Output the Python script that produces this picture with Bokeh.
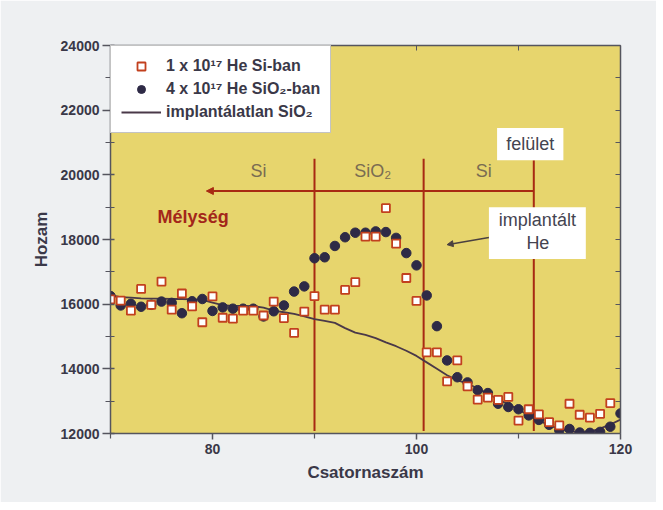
from bokeh.plotting import figure
from bokeh.models import (Range1d, Legend, LegendItem, LinearAxis, Arrow, NormalHead,
                          Label, FixedTicker, ColumnDataSource)
from bokeh.embed import file_html
from bokeh.resources import INLINE

# ---------------- data ----------------
channels_sq = list(range(70, 120))
si_ban = [16150, 16110, 15800, 16470, 15980, 16700, 15830, 16330, 15930, 15440,
          16240, 15580, 15550, 15800, 15800, 15650, 16080, 15570, 15110, 15770,
          16250, 15830, 15830, 16440, 16680, 18090, 18090, 18970, 17870, 16810,
          16100, 14510, 14510, 13610, 14260, 13460, 13050, 13110, 13040, 13130,
          12400, 12750, 12590, 12350, 12250, 12920, 12580, 12490, 12610, 12940]

channels = list(range(70, 121))
sio2_ban = [16250, 15960, 16010, 15920, 15980, 16080, 16040, 15720, 16090, 16160,
            15790, 15900, 15860, 15860, 15860, 15620, 15780, 15960, 16390, 16550,
            17420, 17450, 17800, 18070, 18210, 18210, 18250, 18230, 18050, 17580,
            17200, 16270, 15320, 14260, 13740, 13580, 13340, 13250, 12920, 12820,
            12750, 12560, 12420, 12270, 12100, 12140, 12030, 12020, 12050, 12210,
            12620]

unimplanted = [16280, 16220, 16200, 16180, 16170, 16170, 16160, 16160, 16150, 16130,
               16050, 15970, 15950, 15950, 15940, 15890, 15800, 15750, 15700, 15620,
               15540, 15480, 15420, 15260, 15120, 15050, 14950, 14820, 14700, 14560,
               14400, 14200, 14000, 13800, 13650, 13540, 13400, 13220, 13060, 12900,
               12750, 12550, 12400, 12260, 12140, 12080, 12020, 12060, 12150, 12280,
               12430]

boundary_x = [90.0, 100.7, 111.5]
boundary_top = [20500, 20500, 20450]
layer_names = ["Si", "SiO\u2082", "Si"]
layer_x = [84.5, 95.7, 106.6]

x_major = [80, 100, 120]
x_minor = [70, 90, 110]
y_major = [12000, 14000, 16000, 18000, 20000, 22000, 24000]
y_minor = [13000, 15000, 17000, 19000, 21000, 23000]

legend_labels = ["1 x 10\u00b9\u2077 He Si-ban",
                 "4 x 10\u00b9\u2077 He SiO\u2082-ban",
                 "implantálatlan SiO\u2082"]

# ---------------- styles ----------------
FONT = "Liberation Sans"
TXT = "#3a3848"
RED = "#a82a12"
AX = "#55555e"
YELLOW = "#e7d56d"
PAPER = "#eef0f2"

p = figure(width=656, height=502, output_backend="svg", toolbar_location=None,
           x_range=Range1d(70, 120), y_range=Range1d(12000, 24000),
           min_border_left=110, min_border_right=36, min_border_top=45,
           min_border_bottom=69)
p.background_fill_color = YELLOW
p.border_fill_color = PAPER
p.outline_line_color = None
p.grid.visible = False

# main axes
xa = p.xaxis[0]
ya = p.yaxis[0]
xa.ticker = FixedTicker(ticks=x_major, minor_ticks=x_minor)
ya.ticker = FixedTicker(ticks=y_major, minor_ticks=y_minor)
for ax in (xa, ya):
    ax.axis_line_color = AX
    ax.axis_line_width = 1.5
    ax.major_tick_line_color = AX
    ax.minor_tick_line_color = AX
    ax.major_tick_line_width = 1.5
    ax.minor_tick_line_width = 1.2
    ax.major_label_text_font = FONT
    ax.major_label_text_font_style = "bold"
    ax.major_label_text_font_size = "14px"
    ax.major_label_text_color = TXT
    ax.axis_label_text_font = FONT
    ax.axis_label_text_font_style = "bold"
    ax.axis_label_text_font_size = "17px"
    ax.axis_label_text_color = TXT
xa.axis_label = "Csatornaszám"
ya.axis_label = "Hozam"
xa.major_tick_out = 6
xa.major_tick_in = 0
xa.minor_tick_out = 5
xa.minor_tick_in = 0
xa.major_label_standoff = 4
xa.axis_label_standoff = 6
ya.major_tick_out = 8
ya.major_tick_in = 4
ya.minor_tick_out = 5
ya.minor_tick_in = 4
ya.major_label_standoff = 3
ya.axis_label_standoff = 7

# mirrored axes (ticks inward, no labels)
top = LinearAxis(ticker=FixedTicker(ticks=x_major, minor_ticks=x_minor))
right = LinearAxis(ticker=FixedTicker(ticks=y_major, minor_ticks=y_minor))
for ax in (top, right):
    ax.axis_line_color = AX
    ax.axis_line_width = 1.5
    ax.major_tick_line_color = AX
    ax.minor_tick_line_color = AX
    ax.major_tick_out = 0
    ax.minor_tick_out = 0
    ax.major_tick_in = 5
    ax.minor_tick_in = 5
    ax.major_label_text_font_size = "0px"
    ax.major_label_text_alpha = 0
p.add_layout(top, "above")
p.add_layout(right, "right")

# layer boundaries
bsrc = ColumnDataSource(dict(x=boundary_x, top=boundary_top,
                             bot=[12080] * len(boundary_x)))
p.segment(x0="x", y0="bot", x1="x", y1="top", source=bsrc,
          line_color=RED, line_width=2)

# data
r_line = p.line(channels, unimplanted, line_color="#4a3848", line_width=1.8)
r_circ = p.scatter(channels, sio2_ban, marker="circle", size=9.5,
                   fill_color="#2e2a46", line_color="#2e2a46")
r_sq = p.scatter(channels_sq, si_ban, marker="square", size=8,
                 fill_color="white", line_color="#c2401e", line_width=1.8)

# white label boxes
p.quad(left=[107.9, 107.1], right=[114.4, 116.6], top=[21450, 19000],
       bottom=[20450, 17400], fill_color="white", line_color=None)

# depth arrow
p.add_layout(Arrow(end=NormalHead(size=7, fill_color=RED, line_color=RED),
                   x_start=boundary_x[2], y_start=19500, x_end=79.4, y_end=19500,
                   line_color=RED, line_width=2))
p.add_layout(Arrow(end=NormalHead(size=6, fill_color="#4a4040", line_color="#4a4040"),
                   x_start=107.1, y_start=18060, x_end=103.0, y_end=17840,
                   line_color="#4a4040", line_width=1.5))

for name, lx in zip(layer_names, layer_x):
    p.add_layout(Label(x=lx, y=20110, text=name, text_align="center",
                       text_baseline="middle", text_font=FONT,
                       text_font_size="18px", text_color="#7a6c52"))

p.add_layout(Label(x=78.1, y=18710, text="Mélység", text_align="center",
                   text_baseline="middle", text_font=FONT, text_font_style="bold",
                   text_font_size="18px", text_color="#a3261a"))
p.add_layout(Label(x=111.15, y=20960, text="felület", text_align="center",
                   text_baseline="middle", text_font=FONT,
                   text_font_size="18px", text_color="#444450"))
p.add_layout(Label(x=111.85, y=18590, text="implantált", text_align="center",
                   text_baseline="middle", text_font=FONT,
                   text_font_size="18px", text_color="#444450"))
p.add_layout(Label(x=111.9, y=17880, text="He", text_align="center",
                   text_baseline="middle", text_font=FONT,
                   text_font_size="18px", text_color="#444450"))

legend = Legend(items=[LegendItem(label=legend_labels[0], renderers=[r_sq]),
                       LegendItem(label=legend_labels[1], renderers=[r_circ]),
                       LegendItem(label=legend_labels[2], renderers=[r_line])],
                location="top_left", margin=0, padding=10, spacing=3,
                glyph_width=40, glyph_height=20, label_height=20, label_standoff=5,
                label_text_font=FONT, label_text_font_style="bold",
                label_text_font_size="16px", label_text_color=TXT,
                background_fill_color="white", background_fill_alpha=1,
                border_line_color="#888888", border_line_width=1)
p.add_layout(legend)

open("out.html", "w").write(file_html(p, INLINE))
